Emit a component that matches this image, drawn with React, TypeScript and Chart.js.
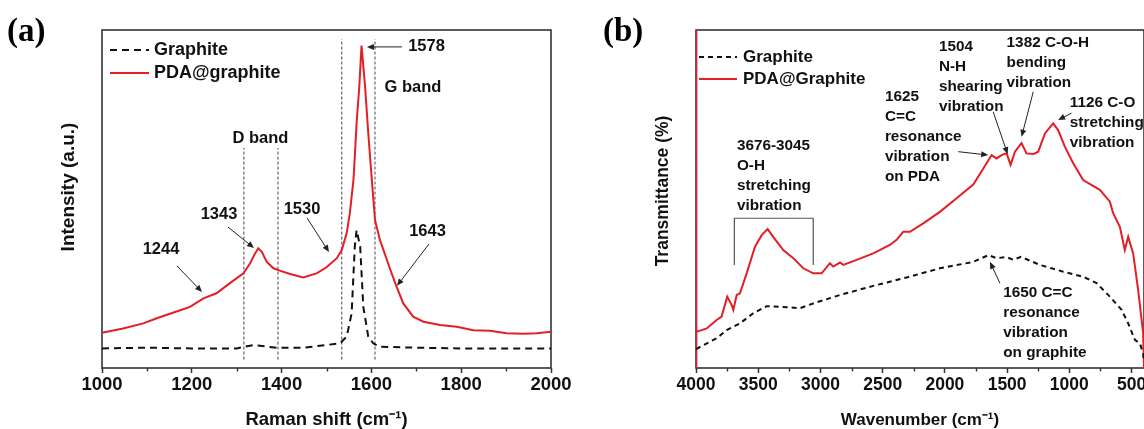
import React, { useEffect, useRef } from "react";
import { Chart, registerables } from "chart.js";

Chart.register(...registerables);

const FONT = '"Liberation Sans", Arial, Helvetica, sans-serif';
const RED = "#e41e26";
const INK = "#111111";

// ---------------- (a) Raman spectra ----------------
const ramanShiftPDA = [1000, 1047, 1092, 1122, 1166, 1196, 1226, 1255, 1285, 1315, 1330, 1341, 1348, 1356, 1367, 1382, 1396, 1419, 1448, 1478, 1500, 1523, 1534, 1545, 1552, 1560, 1563, 1567, 1573, 1578, 1586, 1592, 1597, 1601, 1608, 1619, 1641, 1656, 1671, 1693, 1716, 1753, 1790, 1827, 1864, 1901, 1938, 1968, 2000];
const intensityPDA = [10.4, 11.7, 13.2, 14.7, 16.7, 18.1, 20.6, 22.1, 25.1, 28.0, 31.0, 33.9, 35.4, 34.4, 31.4, 29.5, 28.8, 27.8, 26.8, 28.0, 29.8, 32.5, 34.9, 39.9, 45.8, 55.6, 62.4, 72.5, 83.2, 95.4, 83.2, 71.4, 62.5, 55.6, 43.8, 37.9, 29.5, 24.1, 19.1, 15.2, 13.7, 12.7, 12.2, 11.2, 11.0, 10.3, 10.1, 10.3, 10.7];
const ramanShiftGraphite = [1000, 1100, 1200, 1300, 1337, 1389, 1450, 1530, 1545, 1556, 1563, 1567, 1575, 1582, 1593, 1604, 1619, 1700, 1800, 1900, 2000];
const intensityGraphite = [5.8, 6.0, 5.8, 5.8, 6.8, 6.0, 6.0, 7.3, 9.3, 16.2, 35.9, 40.8, 35.9, 18.1, 9.3, 7.3, 6.3, 6.0, 5.8, 5.8, 5.8];
const ramanMajorTicks = [1000, 1200, 1400, 1600, 1800, 2000];
const ramanMinorTicks = [1100, 1300, 1500, 1700, 1900];
const dBandEdges = [1316, 1392];
const gBandEdges = [1534, 1608];
const dBandTop = 65.1;
const gBandTop = 97.3;
const bandBottom = 2.5;

const ramanLabels = [
  { text: ["1578"], x: 1722.7, y: 95.0 },
  { text: ["G band"], x: 1692.7, y: 83.1 },
  { text: ["D band"], x: 1353, y: 68.0 },
  { text: ["1343"], x: 1260.6, y: 45.3 },
  { text: ["1244"], x: 1131.4, y: 35.2 },
  { text: ["1530"], x: 1445.4, y: 47.0 },
  { text: ["1643"], x: 1725, y: 40.5 },
];
// [fromX, fromY, toX, toY] in data units
const ramanArrows = [
  [1668, 95.0, 1590, 95.0],
  [1280.6, 41.7, 1338.5, 35.5],
  [1167, 30.2, 1222.7, 22.5],
  [1456.6, 44.4, 1505.6, 34.3],
  [1728.3, 36.7, 1657, 24.3],
];

// ---------------- (b) FTIR spectra ----------------
const wavenumberPDA = [4000, 4000, 3994, 3914, 3834, 3794, 3749, 3713, 3700, 3673, 3647, 3593, 3526, 3472, 3424, 3379, 3299, 3218, 3138, 3058, 2990, 2924, 2897, 2843, 2817, 2709, 2576, 2442, 2388, 2335, 2281, 2174, 2040, 1906, 1772, 1665, 1625, 1585, 1544, 1504, 1472, 1437, 1384, 1344, 1290, 1250, 1196, 1130, 1090, 1036, 969, 889, 755, 674, 648, 594, 554, 527, 487, 447, 407, 400];
const transmittancePDA = [100, 0, 10.7, 11.7, 14.2, 15.2, 21.1, 18.6, 17.2, 21.6, 22.1, 28.0, 35.9, 39.3, 41.1, 38.8, 34.9, 32.5, 29.5, 28.0, 28.0, 31.0, 30.0, 31.2, 30.5, 32.0, 33.9, 36.4, 37.9, 40.3, 40.3, 42.8, 46.2, 50.2, 54.3, 60.6, 63.0, 62.0, 63.0, 63.5, 60.1, 64.0, 66.5, 63.5, 63.3, 64.0, 69.4, 72.4, 70.4, 65.5, 60.6, 55.6, 52.7, 49.2, 45.8, 41.8, 34.9, 38.8, 33.9, 23.1, 10.3, 0];
const wavenumberGraphite = [4000, 3834, 3753, 3700, 3647, 3540, 3432, 3325, 3165, 3058, 2843, 2576, 2307, 2040, 1772, 1650, 1584, 1504, 1451, 1389, 1237, 1049, 889, 781, 674, 580, 527, 473, 433, 407, 400];
const transmittanceGraphite = [5.6, 8.8, 11.2, 12.2, 13.2, 16.2, 18.3, 18.1, 17.7, 19.1, 21.6, 24.3, 26.8, 29.5, 31.4, 33.4, 32.5, 32.8, 32.0, 32.9, 30.5, 28.5, 27.0, 25.1, 21.1, 17.2, 13.2, 8.3, 7.3, 4.3, 2.0];
const ftirMajorTicks = [4000, 3500, 3000, 2500, 2000, 1500, 1000, 500];
const ftirMinorTicks = [3750, 3250, 2750, 2250, 1750, 1250, 750];

const ftirLabels = [
  { text: ["3676-3045", "O-H", "stretching", "vibration"], x: 3671, y: 65.7 },
  { text: ["1625", "C=C", "resonance", "vibration", "on PDA"], x: 2482, y: 80.2 },
  { text: ["1504", "N-H", "shearing", "vibration"], x: 2048, y: 95.0 },
  { text: ["1382 C-O-H", "bending", "vibration"], x: 1504, y: 96.2 },
  { text: ["1126 C-O", "stretching", "vibration"], x: 996, y: 78.4 },
  { text: ["1650 C=C", "resonance", "vibration", "on graphite"], x: 1531, y: 22.3 },
];
const ftirArrows = [
  [1893, 64.0, 1652, 63.0],
  [1612, 75.8, 1496, 63.3],
  [1290, 81.7, 1384, 68.4],
  [982, 75.4, 1090, 73.4],
  [1558, 25.1, 1638, 31.4],
];
const ftirBracket = { from: 3692, to: 3058, top: 44.3, bottom: 30.5 };

// ---------------- helpers ----------------
const pts = (xs: number[], ys: number[]) => xs.map((x, i) => ({ x, y: ys[i] }));

function drawArrow(ctx: CanvasRenderingContext2D, x1: number, y1: number, x2: number, y2: number) {
  const head = 7;
  const a = Math.atan2(y2 - y1, x2 - x1);
  ctx.beginPath();
  ctx.moveTo(x1, y1);
  ctx.lineTo(x2 - (head - 1) * Math.cos(a), y2 - (head - 1) * Math.sin(a));
  ctx.stroke();
  ctx.beginPath();
  ctx.moveTo(x2, y2);
  ctx.lineTo(x2 - head * Math.cos(a) + 3 * Math.sin(a), y2 - head * Math.sin(a) - 3 * Math.cos(a));
  ctx.lineTo(x2 - head * Math.cos(a) - 3 * Math.sin(a), y2 - head * Math.sin(a) + 3 * Math.cos(a));
  ctx.closePath();
  ctx.fill();
}

type PanelCfg = {
  minor: number[];
  labels: { text: string[]; x: number; y: number }[];
  labelAlign: CanvasTextAlign;
  labelSize: number;
  lineGap: number;
  arrows: number[][];
  bracket?: { from: number; to: number; top: number; bottom: number };
  legend: { dx: number; dy: number; gap: number; len: number; textDx: number; size: number };
  panel: { text: string; x: number; y: number };
  yTitle: { text: string; x: number; y: number; size: number };
};

function panelPlugin(cfg: PanelCfg) {
  return {
    id: "panelDecor",
    beforeDatasetsDraw(chart: any) {
      const { ctx, chartArea: a } = chart;
      ctx.save();
      ctx.strokeStyle = "#333";
      ctx.lineWidth = 1.6;
      ctx.strokeRect(a.left, a.top, a.right - a.left, a.bottom - a.top);
      ctx.restore();
    },
    afterDraw(chart: any) {
      const { ctx, chartArea: a } = chart;
      const xs = chart.scales.x;
      const ys = chart.scales.y;
      ctx.save();
      // minor ticks
      ctx.strokeStyle = "#333";
      ctx.lineWidth = 1.4;
      ctx.beginPath();
      cfg.minor.forEach((v) => {
        const px = Math.round(xs.getPixelForValue(v)) + 0.5;
        ctx.moveTo(px, a.bottom);
        ctx.lineTo(px, a.bottom + 3.5);
      });
      ctx.stroke();

      // annotations
      ctx.fillStyle = INK;
      ctx.font = `bold ${cfg.labelSize}px ${FONT}`;
      ctx.textBaseline = "middle";
      ctx.textAlign = cfg.labelAlign;
      cfg.labels.forEach((l) => {
        const px = xs.getPixelForValue(l.x);
        const py = ys.getPixelForValue(l.y);
        l.text.forEach((t, i) => ctx.fillText(t, px, py + i * cfg.lineGap));
      });

      // arrows
      ctx.strokeStyle = "#222";
      ctx.fillStyle = "#222";
      ctx.lineWidth = 1;
      cfg.arrows.forEach(([fx, fy, tx, ty]) => {
        drawArrow(ctx, xs.getPixelForValue(fx), ys.getPixelForValue(fy), xs.getPixelForValue(tx), ys.getPixelForValue(ty));
      });

      // bracket
      if (cfg.bracket) {
        const b = cfg.bracket;
        const x1 = xs.getPixelForValue(b.from);
        const x2 = xs.getPixelForValue(b.to);
        const yt = ys.getPixelForValue(b.top);
        const yb = ys.getPixelForValue(b.bottom);
        ctx.strokeStyle = "#555";
        ctx.lineWidth = 1.2;
        ctx.beginPath();
        ctx.moveTo(x1, yb);
        ctx.lineTo(x1, yt);
        ctx.lineTo(x2, yt);
        ctx.lineTo(x2, yb);
        ctx.stroke();
      }

      // legend (from the first two datasets)
      const lg = cfg.legend;
      ctx.font = `bold ${lg.size}px ${FONT}`;
      ctx.textAlign = "left";
      ctx.textBaseline = "middle";
      chart.data.datasets.slice(0, 2).forEach((ds: any, i: number) => {
        const y = a.top + lg.dy + i * lg.gap;
        const x = a.left + lg.dx;
        ctx.strokeStyle = ds.borderColor;
        ctx.lineWidth = ds.borderWidth;
        ctx.setLineDash(ds.borderDash || []);
        ctx.beginPath();
        ctx.moveTo(x, y);
        ctx.lineTo(x + lg.len, y);
        ctx.stroke();
        ctx.setLineDash([]);
        ctx.fillStyle = INK;
        ctx.fillText(ds.label, x + lg.textDx, y);
      });

      // y-axis title (rotated)
      ctx.save();
      ctx.translate(cfg.yTitle.x, cfg.yTitle.y);
      ctx.rotate(-Math.PI / 2);
      ctx.font = `bold ${cfg.yTitle.size}px ${FONT}`;
      ctx.textAlign = "center";
      ctx.textBaseline = "middle";
      ctx.fillStyle = INK;
      ctx.fillText(cfg.yTitle.text, 0, 0);
      ctx.restore();

      // panel label
      ctx.font = `bold 33px "Liberation Serif", "Times New Roman", serif`;
      ctx.textAlign = "left";
      ctx.textBaseline = "alphabetic";
      ctx.fillStyle = "#000";
      ctx.fillText(cfg.panel.text, cfg.panel.x, cfg.panel.y);
      ctx.restore();
    },
  };
}

function xScale(opts: {
  min: number; max: number; reverse: boolean; ticks: number[]; tickSize: number; tickPad: number;
  title: string; titleSize: number;
}) {
  return {
    type: "linear",
    min: opts.min,
    max: opts.max,
    reverse: opts.reverse,
    afterBuildTicks: (axis: any) => {
      axis.ticks = opts.ticks.map((v) => ({ value: v }));
    },
    afterFit: (s: any) => {
      s.height = 61;
      s.paddingLeft = 0;
      s.paddingRight = 0;
    },
    border: { display: false },
    grid: { display: true, drawOnChartArea: false, drawTicks: true, tickLength: 5, tickWidth: 1.5, tickColor: "#333", color: "#333" },
    ticks: {
      autoSkip: false,
      maxRotation: 0,
      minRotation: 0,
      padding: opts.tickPad,
      color: INK,
      font: { family: FONT, size: opts.tickSize, weight: "bold" },
      callback: (v: any) => String(v),
    },
    title: {
      display: true,
      text: opts.title,
      color: INK,
      font: { family: FONT, size: opts.titleSize, weight: "bold", lineHeight: 1 },
      padding: { top: 0, bottom: 0 },
    },
  };
}

function yScale(width: number) {
  return {
    type: "linear",
    min: 0,
    max: 100,
    afterFit: (s: any) => {
      s.width = width;
    },
    border: { display: false },
    grid: { display: false },
    ticks: { display: false },
    title: { display: false },
  };
}

function RamanChart() {
  const ref = useRef<HTMLCanvasElement | null>(null);
  useEffect(() => {
    if (!ref.current) return;
    const bandSets = [
      ...dBandEdges.map((e) => pts([e, e], [bandBottom, dBandTop])),
      ...gBandEdges.map((e) => pts([e, e], [bandBottom, gBandTop])),
    ].map((data) => ({
      label: "band",
      data,
      borderColor: "#444",
      borderWidth: 1,
      borderDash: [3, 2],
      pointRadius: 0,
      tension: 0,
    }));
    const chart = new Chart(ref.current, {
      type: "line",
      data: {
        datasets: [
          {
            label: "Graphite",
            data: pts(ramanShiftGraphite, intensityGraphite),
            borderColor: "#111",
            borderWidth: 2,
            borderDash: [7, 5],
            pointRadius: 0,
            tension: 0,
          },
          {
            label: "PDA@graphite",
            data: pts(ramanShiftPDA, intensityPDA),
            borderColor: RED,
            borderWidth: 2,
            pointRadius: 0,
            tension: 0,
          },
          ...bandSets,
        ],
      } as any,
      options: {
        responsive: false,
        animation: false,
        events: [],
        layout: { padding: { top: 30, right: 21, left: 0, bottom: 0 } },
        plugins: { legend: { display: false }, tooltip: { enabled: false }, title: { display: false } },
        scales: {
          x: xScale({ min: 1000, max: 2000, reverse: false, ticks: ramanMajorTicks, tickSize: 18.5, tickPad: 1, title: "Raman shift (cm\u207B\u00B9)", titleSize: 18.5 }),
          y: yScale(102),
        },
      } as any,
      plugins: [
        panelPlugin({
          minor: ramanMinorTicks,
          labels: ramanLabels,
          labelAlign: "center",
          labelSize: 16.5,
          lineGap: 20,
          arrows: ramanArrows,
          legend: { dx: 8, dy: 20, gap: 23, len: 39, textDx: 44, size: 18 },
          panel: { text: "(a)", x: 7, y: 41 },
          yTitle: { text: "Intensity (a.u.)", x: 69, y: 187, size: 19 },
        }) as any,
      ],
    });
    return () => chart.destroy();
  }, []);
  return <canvas ref={ref} width={572} height={429} style={{ position: "absolute", left: 0, top: 0 }} />;
}

function FtirChart() {
  const ref = useRef<HTMLCanvasElement | null>(null);
  useEffect(() => {
    if (!ref.current) return;
    const chart = new Chart(ref.current, {
      type: "line",
      data: {
        datasets: [
          {
            label: "Graphite",
            data: pts(wavenumberGraphite, transmittanceGraphite),
            borderColor: "#111",
            borderWidth: 2,
            borderDash: [5, 4],
            pointRadius: 0,
            tension: 0,
          },
          {
            label: "PDA@Graphite",
            data: pts(wavenumberPDA, transmittancePDA),
            borderColor: RED,
            borderWidth: 2,
            pointRadius: 0,
            tension: 0,
          },
        ],
      } as any,
      options: {
        responsive: false,
        animation: false,
        events: [],
        layout: { padding: { top: 30, right: 0, left: 0, bottom: 0 } },
        plugins: { legend: { display: false }, tooltip: { enabled: false }, title: { display: false } },
        scales: {
          x: xScale({ min: 400, max: 4000, reverse: true, ticks: ftirMajorTicks, tickSize: 17.5, tickPad: 1.5, title: "Wavenumber (cm\u207B\u00B9)", titleSize: 17 }),
          y: yScale(124),
        },
      } as any,
      plugins: [
        panelPlugin({
          minor: ftirMinorTicks,
          labels: ftirLabels,
          labelAlign: "left",
          labelSize: 15.3,
          lineGap: 20,
          arrows: ftirArrows,
          bracket: ftirBracket,
          legend: { dx: 3, dy: 27, gap: 22, len: 38, textDx: 44, size: 17 },
          panel: { text: "(b)", x: 31, y: 41 },
          yTitle: { text: "Transmittance (%)", x: 91, y: 191, size: 17.5 },
        }) as any,
      ],
    });
    return () => chart.destroy();
  }, []);
  return <canvas ref={ref} width={572} height={429} style={{ position: "absolute", left: 572, top: 0 }} />;
}

export default function App() {
  return (
    <div style={{ position: "fixed", left: 0, top: 0, width: 1144, height: 429, background: "#fff", overflow: "hidden" }}>
      <RamanChart />
      <FtirChart />
    </div>
  );
}
